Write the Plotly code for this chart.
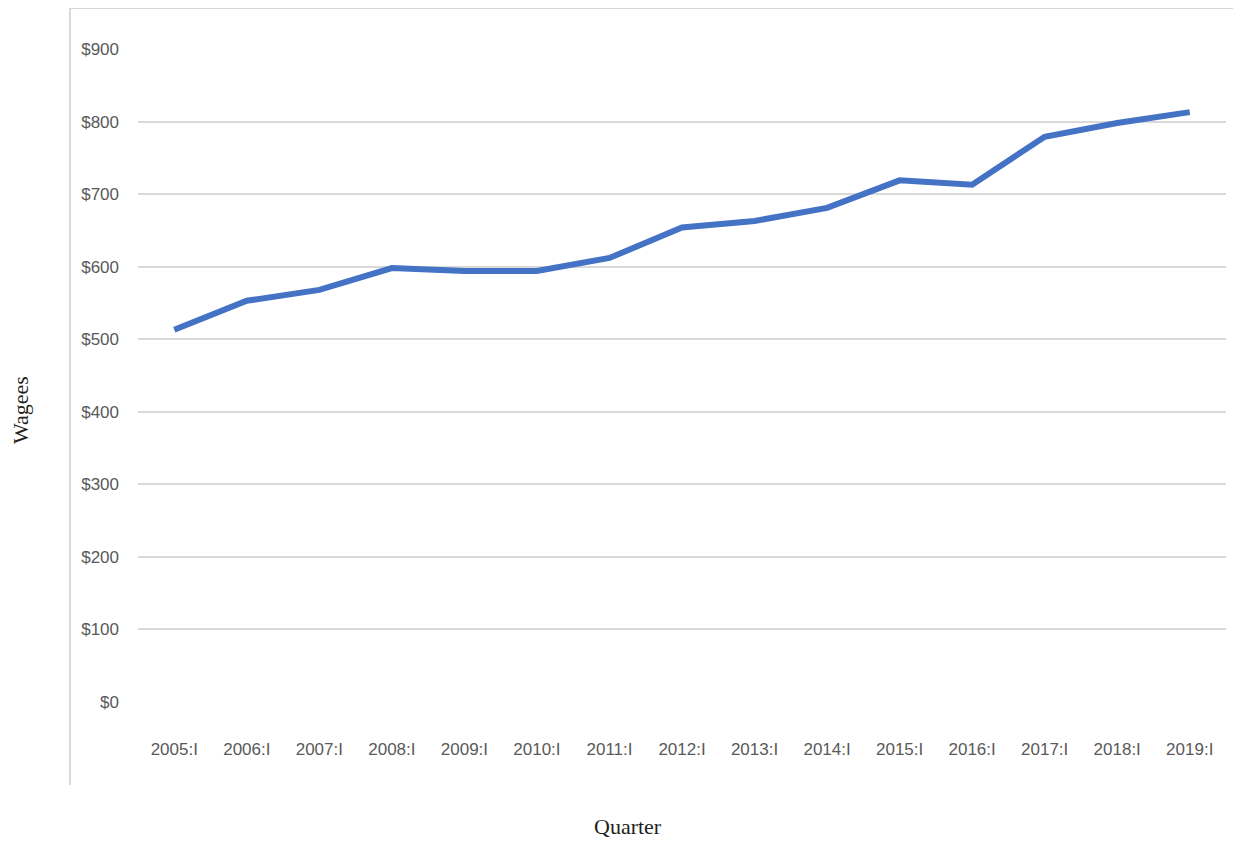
import plotly.graph_objects as go

quarters = ["2005:I", "2006:I", "2007:I", "2008:I", "2009:I", "2010:I", "2011:I",
            "2012:I", "2013:I", "2014:I", "2015:I", "2016:I", "2017:I", "2018:I", "2019:I"]
wages = [513, 553, 568, 598, 594, 594, 612, 654, 663, 681, 719, 713, 779, 798, 813]
y_ticks = [0, 100, 200, 300, 400, 500, 600, 700, 800, 900]
y_tick_labels = ["$" + str(v) for v in y_ticks]

OFF = 8  # page body margin
W, H = 1241 - OFF, 841 - OFF
# desired plot area in page pixels: x 138..1226, y 49..702
L = 138 - OFF
R = 1241 - 1226
T = 49 - OFF
B = 841 - 702
pw, ph = W - L - R, H - T - B

def px(x):
    return (x - OFF - L) / pw

def py(y):
    return (H + OFF - B - y) / ph

fig = go.Figure()
fig.add_trace(go.Scatter(
    x=quarters, y=wages, mode="lines",
    line=dict(color="#4472C4", width=6),
    hoverinfo="x+y", showlegend=False,
))

tick_font = dict(family="Liberation Sans Narrow, Arial Narrow, sans-serif", size=17, color="#595959")

fig.update_layout(
    width=W, height=H,
    margin=dict(l=L, r=R, t=T, b=B),
    paper_bgcolor="white", plot_bgcolor="white",
    xaxis=dict(type="category", range=[-0.5, len(quarters) - 0.5],
               showgrid=False, showline=False, zeroline=False,
               ticks="", tickfont=tick_font, ticklabelstandoff=35),
    yaxis=dict(range=[0, 900], tickvals=y_ticks, ticktext=y_tick_labels,
               showgrid=True, gridcolor="#d9d9d9", gridwidth=2,
               zeroline=False, showline=False, ticks="",
               tickfont=tick_font, ticklabelstandoff=18),
    shapes=[
        dict(type="line", xref="paper", yref="paper",
             x0=px(70), x1=px(70), y0=py(8), y1=py(785),
             line=dict(color="#d9d9d9", width=2)),
        dict(type="line", xref="paper", yref="paper",
             x0=px(70), x1=px(1241), y0=py(8), y1=py(8),
             line=dict(color="#d9d9d9", width=2)),
    ],
    annotations=[
        dict(text="Wagees", xref="paper", yref="paper", x=px(20), y=py(410),
             textangle=-90, showarrow=False, xanchor="center", yanchor="middle",
             font=dict(family="Liberation Serif, Times New Roman, serif", size=22, color="#231f20")),
        dict(text="Quarter", xref="paper", yref="paper", x=px(628), y=py(826),
             showarrow=False, xanchor="center", yanchor="middle",
             font=dict(family="Liberation Serif, Times New Roman, serif", size=22, color="#231f20")),
    ],
)

fig.write_html("out.html")
